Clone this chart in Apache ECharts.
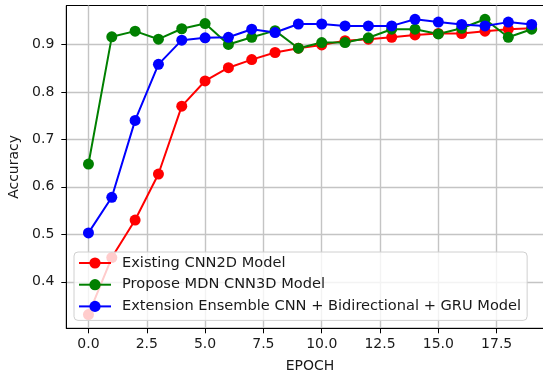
<!DOCTYPE html>
<html>
<head>
<meta charset="utf-8">
<script src="https://cdn.jsdelivr.net/npm/echarts@6/dist/echarts.min.js"></script>
<style>
html,body{margin:0;padding:0;background:#fff;overflow:hidden;}
#chart{width:543px;height:373px;}
</style>
</head>
<body>
<div id="chart"></div>
<script>
const epochs = [0,1,2,3,4,5,6,7,8,9,10,11,12,13,14,15,16,17,18,19];
const existingCNN2D = [0.331,0.451,0.530,0.627,0.770,0.823,0.851,0.868,0.883,0.892,0.899,0.908,0.911,0.915,0.920,0.923,0.923,0.928,0.932,0.934];
const proposeMDN3D = [0.648,0.916,0.928,0.911,0.933,0.944,0.900,0.915,0.929,0.892,0.904,0.904,0.914,0.932,0.932,0.922,0.934,0.953,0.915,0.932];
const extensionEnsemble = [0.503,0.578,0.740,0.858,0.909,0.914,0.915,0.932,0.925,0.943,0.943,0.939,0.939,0.939,0.953,0.947,0.942,0.939,0.947,0.942];
const seriesNames = ['Existing CNN2D Model','Propose MDN CNN3D Model','Extension Ensemble CNN + Bidirectional + GRU Model'];
const xTicks = [0,2.5,5,7.5,10,12.5,15,17.5];
const yTicks = [0.4,0.5,0.6,0.7,0.8,0.9];

const font = 'DejaVu Sans';
const chart = echarts.init(document.getElementById('chart'), null, {renderer:'canvas'});
function mk(name, vals, color){
  return {
    name: name, type:'line',
    data: epochs.map((e,i)=>[e, vals[i]]),
    symbol:'circle', symbolSize:11,
    lineStyle:{color:color, width:2},
    itemStyle:{color:color},
    emphasis:{disabled:true},
    animation:false
  };
}
chart.setOption({
  animation:false,
  backgroundColor:'#ffffff',
  grid:{left:66.3, width:487.5, top:5.5, height:322.8, outerBoundsMode:'none', containLabel:false,
        show:true, borderColor:'#000', borderWidth:1, backgroundColor:'transparent'},
  xAxis:{
    type:'value', min:-0.95, max:19.95,
    name:'EPOCH', nameLocation:'middle', nameGap:31,
    nameTextStyle:{fontFamily:font, fontSize:14, color:'#1a1a1a'},
    axisLine:{onZero:false, lineStyle:{color:'#000', width:1}},
    axisTick:{customValues:xTicks, length:5, lineStyle:{color:'#000'}},
    axisLabel:{customValues:xTicks, margin:9, fontFamily:font, fontSize:14, color:'#1a1a1a', formatter:v=>v.toFixed(1)},
    splitLine:{show:true, lineStyle:{color:'#c4c4c4', width:1.4}}
  },
  yAxis:{
    type:'value', min:0.302, max:0.982,
    name:'Accuracy', nameLocation:'middle', nameGap:39,
    nameTextStyle:{fontFamily:font, fontSize:14, color:'#1a1a1a'},
    axisLine:{show:true, onZero:false, lineStyle:{color:'#000', width:1}},
    axisTick:{show:true, customValues:yTicks, length:5, lineStyle:{color:'#000'}},
    axisLabel:{customValues:yTicks, margin:12, fontFamily:font, fontSize:14, color:'#1a1a1a', formatter:v=>v.toFixed(1)},
    splitLine:{show:true, lineStyle:{color:'#c4c4c4', width:1.4}}
  },
  legend:{
    data:seriesNames, orient:'vertical', left:74, top:252,
    padding:[3,6,6,4], itemGap:5.7, itemWidth:32, itemHeight:14,
    lineStyle:{width:2},
    backgroundColor:'rgba(255,255,255,0.8)', borderColor:'#d0d0d0', borderWidth:1, borderRadius:4,
    textStyle:{fontFamily:font, fontSize:14.6, color:'#1a1a1a', lineHeight:16, padding:[0,0,0,6]},
    selectedMode:false
  },
  series:[
    mk(seriesNames[0], existingCNN2D, '#ff0000'),
    mk(seriesNames[1], proposeMDN3D, '#008000'),
    mk(seriesNames[2], extensionEnsemble, '#0000ff')
  ]
});
</script>
</body>
</html>
